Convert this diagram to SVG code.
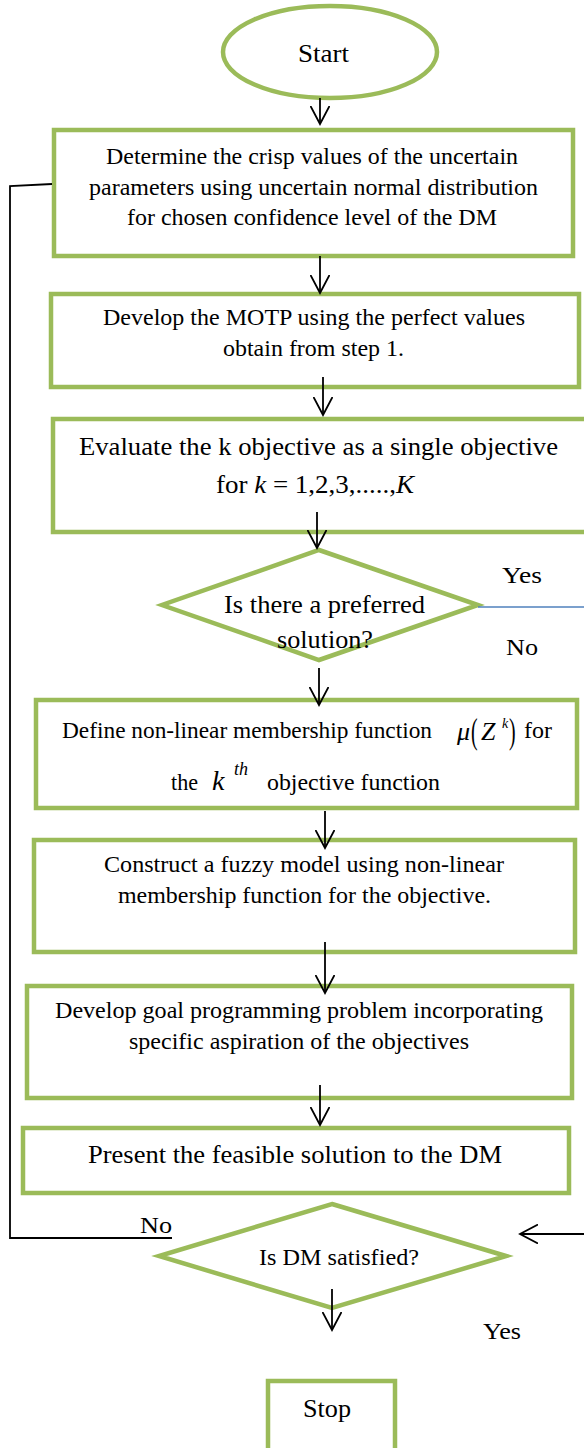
<svg xmlns="http://www.w3.org/2000/svg" width="584" height="1448" viewBox="0 0 584 1448">
<style>
.n{fill:#fff;stroke:#9BBB59;stroke-width:4.5}
.t{font-family:"Liberation Serif","Times New Roman",serif;fill:#000}
.c{fill:none;stroke:#000;stroke-width:1.8}
.i{font-style:italic}
</style>
<defs>
<marker id="a" markerWidth="20" markerHeight="20" refX="18" refY="9.5" orient="auto" markerUnits="userSpaceOnUse">
<path d="M0,0 L18,9.5 L0,19" fill="none" stroke="#000" stroke-width="1.8"/>
</marker>
</defs>
<rect width="584" height="1448" fill="#fff"/>
<g id="start">
<ellipse class="n" cx="330" cy="52" rx="107" ry="46"/>
<text class="t" x="298" y="62" font-size="26" textLength="51" lengthAdjust="spacingAndGlyphs">Start</text>
</g>
<g id="step1">
<rect class="n" x="54" y="130" width="519" height="126"/>
<text class="t" x="106" y="164" font-size="23" textLength="412" lengthAdjust="spacingAndGlyphs">Determine the crisp values of the uncertain</text>
<text class="t" x="89" y="195" font-size="23" textLength="449" lengthAdjust="spacingAndGlyphs">parameters using uncertain normal distribution</text>
<text class="t" x="127" y="225" font-size="23" textLength="370" lengthAdjust="spacingAndGlyphs">for chosen confidence level of the DM</text>
</g>
<g id="step2">
<rect class="n" x="51" y="294" width="528" height="93"/>
<text class="t" x="103" y="325" font-size="23" textLength="422" lengthAdjust="spacingAndGlyphs">Develop the MOTP using the perfect values</text>
<text class="t" x="223" y="356" font-size="23" textLength="181" lengthAdjust="spacingAndGlyphs">obtain from step 1.</text>
</g>
<g id="step3">
<rect class="n" x="53" y="419" width="534" height="113"/>
<text class="t" x="79" y="455" font-size="26" textLength="479" lengthAdjust="spacingAndGlyphs">Evaluate the k objective as a single objective</text>
<text class="t" x="216" y="493" font-size="26" textLength="198" lengthAdjust="spacingAndGlyphs">for  <tspan class="i">k</tspan> = 1,2,3,.....,<tspan class="i">K</tspan></text>
</g>
<g id="decision1">
<polygon class="n" points="319,550 478,605 319,660 162,605"/>
<text class="t" x="224" y="613" font-size="25" textLength="201" lengthAdjust="spacingAndGlyphs">Is there a preferred</text>
<text class="t" x="277" y="648" font-size="25" textLength="96" lengthAdjust="spacingAndGlyphs">solution?</text>
<text class="t" x="502" y="583" font-size="24" textLength="40" lengthAdjust="spacingAndGlyphs">Yes</text>
<text class="t" x="506" y="655" font-size="24" textLength="32" lengthAdjust="spacingAndGlyphs">No</text>
</g>
<g id="step4">
<rect class="n" x="36" y="700" width="541" height="108"/>
<text class="t" x="62" y="738" font-size="23" textLength="370" lengthAdjust="spacingAndGlyphs">Define non-linear  membership function</text>
<text class="t i" x="457" y="740" font-size="26">μ</text>
<text class="t" x="471" y="743" font-size="36" transform="translate(471 743) scale(0.55 1) translate(-471 -743)">(</text>
<text class="t i" x="481" y="740" font-size="26">Z</text>
<text class="t i" x="502" y="728" font-size="14">k</text>
<text class="t" x="509" y="743" font-size="36" transform="translate(509 743) scale(0.55 1) translate(-509 -743)">)</text>
<text class="t" x="524" y="738" font-size="23" textLength="28" lengthAdjust="spacingAndGlyphs">for</text>
<text class="t" x="171" y="790" font-size="23" textLength="27" lengthAdjust="spacingAndGlyphs">the</text>
<text class="t i" x="212" y="790" font-size="28">k</text>
<text class="t i" x="234" y="775" font-size="18">th</text>
<text class="t" x="267" y="790" font-size="23" textLength="173" lengthAdjust="spacingAndGlyphs">objective function</text>
</g>
<g id="step5">
<rect class="n" x="34" y="840" width="541" height="112"/>
<text class="t" x="104" y="872" font-size="23" textLength="400" lengthAdjust="spacingAndGlyphs">Construct a fuzzy model using non-linear</text>
<text class="t" x="118" y="903" font-size="23" textLength="373" lengthAdjust="spacingAndGlyphs">membership function for the objective.</text>
</g>
<g id="step6">
<rect class="n" x="27" y="986" width="545" height="112"/>
<text class="t" x="55" y="1018" font-size="23" textLength="488" lengthAdjust="spacingAndGlyphs">Develop goal programming problem incorporating</text>
<text class="t" x="129" y="1049" font-size="23" textLength="340" lengthAdjust="spacingAndGlyphs">specific aspiration of the objectives</text>
</g>
<g id="step7">
<rect class="n" x="23" y="1128" width="546" height="65"/>
<text class="t" x="88" y="1163" font-size="26" textLength="414" lengthAdjust="spacingAndGlyphs">Present the feasible solution to the DM</text>
</g>
<g id="decision2">
<polygon class="n" points="332,1204 506,1256 332,1308 159,1256"/>
<text class="t" x="259" y="1265" font-size="23" textLength="160" lengthAdjust="spacingAndGlyphs">Is DM satisfied?</text>
<text class="t" x="140" y="1233" font-size="24" textLength="32" lengthAdjust="spacingAndGlyphs">No</text>
<text class="t" x="483" y="1339" font-size="24" textLength="38" lengthAdjust="spacingAndGlyphs">Yes</text>
</g>
<g id="stop">
<rect class="n" x="268" y="1381" width="127" height="80"/>
<text class="t" x="303" y="1417" font-size="26" textLength="48" lengthAdjust="spacingAndGlyphs">Stop</text>
</g>
<g id="connectors">
<line class="c" x1="320" y1="98" x2="320" y2="124" marker-end="url(#a)"/>
<line class="c" x1="320" y1="256" x2="320" y2="293" marker-end="url(#a)"/>
<line class="c" x1="323" y1="377" x2="323" y2="415" marker-end="url(#a)"/>
<line class="c" x1="317" y1="512" x2="317" y2="548" marker-end="url(#a)"/>
<line class="c" x1="319" y1="668" x2="319" y2="705" marker-end="url(#a)"/>
<line class="c" x1="325" y1="811" x2="325" y2="848" marker-end="url(#a)"/>
<line class="c" x1="325" y1="942" x2="325" y2="993" marker-end="url(#a)"/>
<line class="c" x1="320" y1="1085" x2="320" y2="1125" marker-end="url(#a)"/>
<line class="c" x1="332" y1="1289" x2="332" y2="1330" marker-end="url(#a)"/>
<line class="c" x1="584" y1="1234" x2="520" y2="1234" marker-end="url(#a)"/>
<polyline class="c" points="172,1238 10,1238 10,186 52,184"/>
<line x1="478" y1="607" x2="584" y2="607" stroke="#4F81BD" stroke-width="1.5"/>
</g>
</svg>
